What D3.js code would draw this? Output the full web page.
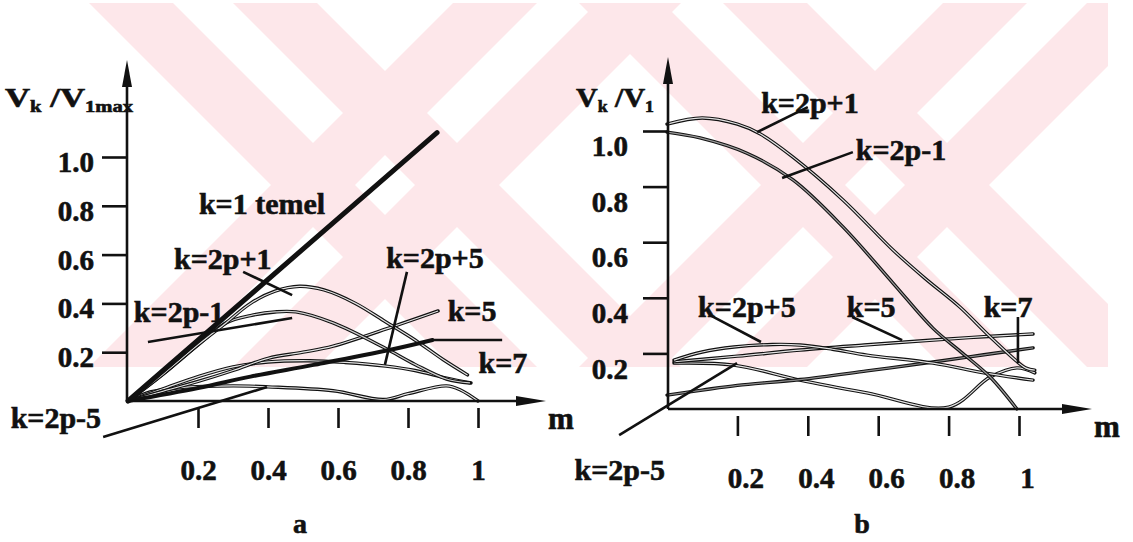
<!DOCTYPE html>
<html>
<head>
<meta charset="utf-8">
<script src="https://cdn.jsdelivr.net/npm/d3@7/dist/d3.min.js"></script>
<style>
    body { margin: 0; background: #fff; }
</style>
</head>
<body>
<svg id="chart" width="1133" height="542"></svg>
<script>
// tick values (same on both panels)
const mTicks = [0.2, 0.4, 0.6, 0.8, 1];
const vTicks = [0.2, 0.4, 0.6, 0.8, 1.0];

// ---- panel a : Vk/V1max against m ----
const aTemel  = [[0, 0], [0.883, 1.10]];
const a2p1    = [[0, 0], [0.1, 0.11], [0.2, 0.23], [0.28, 0.32], [0.35, 0.40], [0.42, 0.45], [0.49, 0.47], [0.56, 0.455], [0.65, 0.40], [0.73, 0.33], [0.82, 0.25], [0.9, 0.17], [0.97, 0.107]];
const a2m1    = [[0, 0], [0.1, 0.11], [0.2, 0.23], [0.28, 0.32], [0.35, 0.35], [0.42, 0.365], [0.48, 0.365], [0.586, 0.32], [0.73, 0.22], [0.82, 0.15], [0.91, 0.09], [0.977, 0.074]];
const a5      = [[0, 0], [0.1, 0.04], [0.2, 0.08], [0.3, 0.125], [0.4, 0.175], [0.5, 0.2], [0.586, 0.225], [0.757, 0.305], [0.886, 0.369]];
const a2p5    = [[0, 0], [0.1, 0.05], [0.2, 0.1], [0.3, 0.14], [0.4, 0.16], [0.52, 0.165], [0.62, 0.158], [0.737, 0.143], [0.82, 0.125], [0.91, 0.094], [0.98, 0.074]];
const a7      = [[0, 0], [0.2, 0.053], [0.35, 0.1], [0.53, 0.148], [0.75, 0.21], [0.87, 0.25]];
const a2m5    = [[0, 0], [0.063, 0.037], [0.15, 0.055], [0.3, 0.062], [0.4, 0.058], [0.586, 0.042], [0.73, 0.006], [0.8, 0.03], [0.91, 0.062], [0.95, 0.045], [1.0, 0.0]];

const aLeaders = [
    [[-0.071, -0.148], [0.397, 0.057]],   // k=2p-5
    [[0.057, 0.242], [0.469, 0.34]],      // k=2p-1
    [[0.329, 0.529], [0.469, 0.434]],     // k=2p+1
    [[0.797, 0.529], [0.734, 0.148]],     // k=2p+5
    [[0.871, 0.25], [1.069, 0.25]]        // k=7
];
const aLabels   = ["k=1 temel", "k=2p+1", "k=2p+5", "k=2p-1", "k=5", "k=7", "k=2p-5"];
const aLabelsAt = [[0.383, 0.811], [0.271, 0.586], [0.877, 0.59], [0.146, 0.365], [0.983, 0.369], [1.071, 0.156], [-0.206, -0.066]];

// ---- panel b : Vk/V1 against m ----
const b2p1 = [[0, 1.025], [0.1, 1.047], [0.2, 1.025], [0.264, 0.99], [0.358, 0.906], [0.5, 0.752], [0.642, 0.572], [0.733, 0.47], [0.832, 0.367], [0.918, 0.26], [1.02, 0.147], [1.045, 0.14]];
const b2m1 = [[0, 0.996], [0.094, 0.975], [0.227, 0.92], [0.358, 0.824], [0.5, 0.655], [0.642, 0.453], [0.756, 0.29], [0.84, 0.2], [0.918, 0.115], [0.994, 0.0]];
const b2p5 = [[0.02, 0.176], [0.1, 0.205], [0.19, 0.223], [0.3, 0.232], [0.378, 0.23], [0.47, 0.215], [0.568, 0.194], [0.756, 0.165], [0.9, 0.13], [1.04, 0.104]];
const b5   = [[0.02, 0.17], [0.2, 0.19], [0.378, 0.212], [0.56, 0.23], [0.756, 0.248], [0.9, 0.26], [1.04, 0.27]];
const b7   = [[0, 0.05], [0.1, 0.068], [0.2, 0.085], [0.378, 0.106], [0.568, 0.137], [0.756, 0.169], [0.9, 0.195], [1.04, 0.22]];
const b2m5 = [[0.02, 0.165], [0.19, 0.158], [0.378, 0.104], [0.568, 0.058], [0.8, 0.007], [0.918, 0.115], [0.994, 0.148], [1.045, 0.13]];

const bLeaders = [
    [[0.40, 1.086], [0.256, 0.996]],      // k=2p+1
    [[0.528, 0.924], [0.327, 0.831]],     // k=2p-1
    [[0.122, 0.338], [0.267, 0.241]],     // k=2p+5
    [[0.526, 0.331], [0.668, 0.248]],     // k=5
    [[0.997, 0.331], [0.997, 0.165]],     // k=7
    [[-0.136, -0.094], [0.199, 0.165]]    // k=2p-5
];
const bLabels   = ["k=2p+1", "k=2p-1", "k=2p+5", "k=5", "k=7", "k=2p-5"];
const bLabelsAt = [[0.406, 1.104], [0.665, 0.932], [0.227, 0.367], [0.58, 0.367], [0.969, 0.367], [-0.134, -0.219]];

const svg = d3.select("#chart");

// pale watermark behind the scan (two crossed chevron marks)
svg.append("clipPath").attr("id", "wmclip")
    .append("rect").attr("x", 78).attr("y", 3).attr("width", 1030).attr("height", 364);
const wm = svg.append("g").attr("clip-path", "url(#wmclip)");
[[385, 185], [875, 185]].forEach(c => {
    [1, -1].forEach(s => {
        [-72, 72].forEach(off => {
            const xAt = y => c[0] + off + s * (y - c[1]);
            wm.append("polygon")
                .attr("points", [[xAt(-20) - 42, -20], [xAt(-20) + 42, -20], [xAt(400) + 42, 400], [xAt(400) - 42, 400]].join(" "))
                .attr("fill", "#fde7ea");
        });
    });
});

const straight = d3.line();
const smooth = d3.line().curve(d3.curveCatmullRom.alpha(0.5));

function drawPanel(p) {
    const g = svg.append("g");
    const x = p.x, y = p.y;
    const pt = d => [x(d[0]), y(d[1])];

    // curves
    p.series.forEach(s => {
        const pts = s.data.map(pt);
        const gen = s.data.length > 2 ? smooth : straight;
        if (s.style === "solid") {
            g.append("path").attr("d", gen(pts)).attr("fill", "none")
                .attr("stroke", "#111").attr("stroke-width", s.width || 4).attr("stroke-linecap", "round");
        } else {
            g.append("path").attr("d", gen(pts)).attr("fill", "none")
                .attr("stroke", "#111").attr("stroke-width", 3.4).attr("stroke-linecap", "round");
            g.append("path").attr("d", gen(pts)).attr("fill", "none")
                .attr("stroke", s.inner || "#e4e4e4").attr("stroke-width", 1.2);
        }
    });

    // leader lines
    p.leaders.forEach(l => {
        g.append("path").attr("d", straight(l.map(pt))).attr("stroke", "#111")
            .attr("stroke-width", 2.6).attr("fill", "none");
    });

    // axes
    const ax = g.append("g").attr("stroke", "#111").attr("stroke-width", 2.6);
    ax.append("line").attr("x1", p.axisX).attr("x2", p.axisX).attr("y1", y(0)).attr("y2", p.yTop + 20);
    ax.append("line").attr("x1", p.axisX).attr("x2", p.xEnd - 20).attr("y1", y(0)).attr("y2", y(0));
    g.append("path").attr("fill", "#111")
        .attr("d", `M${p.axisX},${p.yTop} L${p.axisX - 5},${p.yTop + 27} L${p.axisX + 5},${p.yTop + 27} Z`);
    g.append("path").attr("fill", "#111")
        .attr("d", `M${p.xEnd},${y(0)} L${p.xEnd - 30},${y(0) - 5} L${p.xEnd - 30},${y(0) + 5} Z`);

    const yAxis = g.append("g").attr("transform", `translate(${p.axisX},0)`)
        .call(d3.axisLeft(y).tickValues(vTicks).tickSize(25).tickPadding(p.yPad).tickFormat(d3.format(".1f")));
    yAxis.select(".domain").remove();
    yAxis.selectAll(".tick line").attr("stroke", "#111").attr("stroke-width", 2.6);
    yAxis.selectAll(".tick text").attr("font-size", 29).attr("dy", p.yDy);

    const xAxis = g.append("g").attr("transform", `translate(0,${y(0) + 7})`)
        .call(d3.axisBottom(x).tickValues(mTicks).tickSize(20).tickPadding(31).tickFormat(d => String(d)));
    xAxis.select(".domain").remove();
    xAxis.selectAll(".tick line").attr("stroke", "#111").attr("stroke-width", 2.6);
    xAxis.selectAll(".tick text").attr("font-size", 29).attr("dx", p.xDx);

    // labels
    p.labels.forEach((t, i) => {
        const q = pt(p.labelsAt[i]);
        g.append("text").attr("x", q[0]).attr("y", q[1]).attr("dy", "0.35em")
            .attr("text-anchor", "middle").attr("font-size", 30).text(t);
    });

    g.append("text").attr("x", p.xEnd + 15).attr("y", y(0) + 17).attr("dy", "0.35em")
        .attr("text-anchor", "middle").attr("font-size", 31).text("m");
    g.append("text").attr("x", p.letterX).attr("y", 533)
        .attr("text-anchor", "middle").attr("font-size", 28).text(p.letter);

    // axis title
    const title = g.append("text").attr("x", p.titleX).attr("y", 107).attr("font-size", 27)
        .attr("textLength", p.titleLen).attr("lengthAdjust", "spacingAndGlyphs");
    title.append("tspan").text("V");
    title.append("tspan").attr("font-size", 16).attr("dy", 5).text("k");
    title.append("tspan").attr("dy", -5).text(" /V");
    title.append("tspan").attr("font-size", 16).attr("dy", 5).text(p.sub);
}

drawPanel({
    x: d3.scaleLinear().domain([0, 1]).range([128, 478]),
    y: d3.scaleLinear().domain([0, 1]).range([401, 157]),
    axisX: 127, yTop: 60, xEnd: 546, yPad: 8, yDy: "0.5em", xDx: 0,
    letter: "a", letterX: 300, titleX: 5, titleLen: 128, sub: "1max",
    series: [
        { data: a2m5, style: "double" },
        { data: a2p5, style: "double" },
        { data: a5, style: "double" },
        { data: a2m1, style: "double", inner: "#cfcfcf" },
        { data: a2p1, style: "double" },
        { data: a7, style: "solid", width: 4 },
        { data: aTemel, style: "solid", width: 5 }
    ],
    leaders: aLeaders, labels: aLabels, labelsAt: aLabelsAt
});

drawPanel({
    x: d3.scaleLinear().domain([0, 1]).range([667, 1019]),
    y: d3.scaleLinear().domain([0, 1]).range([409, 131]),
    axisX: 668, yTop: 57, xEnd: 1092, yPad: 15, yDy: "0.85em", xDx: 8,
    letter: "b", letterX: 862, titleX: 576, titleLen: 78, sub: "1",
    series: [
        { data: b2m5, style: "double" },
        { data: b7, style: "double", inner: "#8a8a8a" },
        { data: b5, style: "double" },
        { data: b2p5, style: "double" },
        { data: b2m1, style: "double", inner: "#9a9a9a" },
        { data: b2p1, style: "double" }
    ],
    leaders: bLeaders, labels: bLabels, labelsAt: bLabelsAt
});

// scanned-print look: heavy serif for every text
svg.selectAll("g").filter(function () { return this.hasAttribute("font-family"); }).attr("font-family", null);
svg.selectAll("text")
    .attr("font-family", "Liberation Serif").attr("font-weight", "bold")
    .attr("fill", "#111").attr("stroke", "#111").attr("stroke-width", 0.6);
</script>
</body>
</html>
